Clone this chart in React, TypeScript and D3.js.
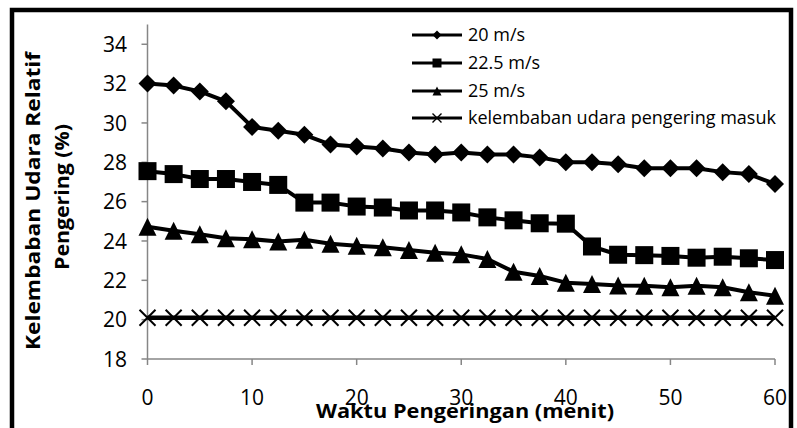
import React from "react";
import * as d3 from "d3";

// Drying time (minutes), sampled every 2.5 min
const minutes = [0, 2.5, 5, 7.5, 10, 12.5, 15, 17.5, 20, 22.5, 25, 27.5, 30, 32.5, 35, 37.5, 40, 42.5, 45, 47.5, 50, 52.5, 55, 57.5, 60];

// Relative humidity of drying air (%) per air speed
const rh20 = [32.0, 31.9, 31.6, 31.1, 29.8, 29.6, 29.4, 28.9, 28.8, 28.7, 28.5, 28.4, 28.5, 28.4, 28.4, 28.25, 28.0, 28.0, 27.9, 27.7, 27.7, 27.7, 27.5, 27.4, 26.9];
const rh225 = [27.55, 27.4, 27.15, 27.15, 27.0, 26.85, 25.95, 25.95, 25.75, 25.7, 25.55, 25.55, 25.45, 25.2, 25.05, 24.9, 24.88, 23.72, 23.3, 23.28, 23.24, 23.15, 23.2, 23.12, 23.03];
const rh25 = [24.72, 24.52, 24.34, 24.14, 24.09, 23.97, 24.06, 23.86, 23.76, 23.68, 23.54, 23.4, 23.32, 23.08, 22.44, 22.22, 21.88, 21.81, 21.74, 21.73, 21.65, 21.72, 21.65, 21.39, 21.22];
const rhInlet = minutes.map(() => 20.1);

const seriesNames = ["20 m/s", "22.5 m/s", "25 m/s", "kelembaban udara pengering masuk"];
const seriesValues = [rh20, rh225, rh25, rhInlet];
const markerKinds = ["diamond", "square", "triangle", "cross"];

const yTicks = [18, 20, 22, 24, 26, 28, 30, 32, 34];
const xTicks = [0, 10, 20, 30, 40, 50, 60];

const W = 797;
const H = 428;
const FONT = "'Open Sans', 'Noto Sans', sans-serif";
const AXIS_GREY = "#868686";

const x = d3.scaleLinear().domain([0, 60]).range([147.5, 775]);
const y = d3.scaleLinear().domain([18, 35]).range([359, 24.6]);

function Marker({ kind, cx, cy, s }: { kind: string; cx: number; cy: number; s: number }) {
  const h = s / 2;
  if (kind === "diamond") {
    return <path d={`M${cx},${cy - h}L${cx + h},${cy}L${cx},${cy + h}L${cx - h},${cy}Z`} fill="#000" />;
  }
  if (kind === "square") {
    return <rect x={cx - h} y={cy - h} width={s} height={s} fill="#000" />;
  }
  if (kind === "triangle") {
    return <path d={`M${cx},${cy - h}L${cx + h},${cy + h}L${cx - h},${cy + h}Z`} fill="#000" />;
  }
  return (
    <path
      d={`M${cx - h},${cy - h}L${cx + h},${cy + h}M${cx - h},${cy + h}L${cx + h},${cy - h}`}
      stroke="#000"
      strokeWidth={s > 10 ? 2 : 1.4}
      fill="none"
    />
  );
}

export default function App() {
  const line = d3
    .line<number>()
    .x((_, i) => x(minutes[i]))
    .y((v) => y(v));

  const markerSize = [18, 18, 18, 16];
  const legendY = [35, 63, 91, 118];

  return (
    <svg width={W} height={H} style={{ position: "absolute", left: 0, top: 0, background: "#fff" }}>
      <rect x={0} y={0} width={W} height={H} fill="#fff" />

      {/* axes */}
      <line x1={x(0)} x2={x(0)} y1={y(35)} y2={y(18)} stroke={AXIS_GREY} strokeWidth={1.5} />
      <line x1={x(0)} x2={x(60)} y1={y(18)} y2={y(18)} stroke={AXIS_GREY} strokeWidth={1.5} />
      {yTicks.map((t) => (
        <g key={`y${t}`}>
          <line x1={x(0) - 6} x2={x(0)} y1={y(t)} y2={y(t)} stroke={AXIS_GREY} strokeWidth={1.5} />
          <text x={127} y={y(t)} dy="0.36em" textAnchor="end" fontFamily={FONT} fontSize={21} textLength={24} lengthAdjust="spacingAndGlyphs" fill="#000">
            {t}
          </text>
        </g>
      ))}
      {xTicks.map((t) => (
        <g key={`x${t}`}>
          <line x1={x(t)} x2={x(t)} y1={y(18)} y2={y(18) + 6} stroke={AXIS_GREY} strokeWidth={1.5} />
          <text x={x(t)} y={397} dy="0.36em" textAnchor="middle" fontFamily={FONT} fontSize={21} fill="#000">
            {t}
          </text>
        </g>
      ))}

      {/* series */}
      {seriesValues.map((vals, si) => (
        <g key={seriesNames[si]}>
          <path d={line(vals) || ""} fill="none" stroke="#000" strokeWidth={si === 3 ? 4.5 : 4} strokeLinejoin="round" />
          {vals.map((v, i) => (
            <Marker key={i} kind={markerKinds[si]} cx={x(minutes[i])} cy={y(v)} s={markerSize[si]} />
          ))}
        </g>
      ))}

      {/* legend */}
      {seriesNames.map((name, i) => (
        <g key={`lg${i}`}>
          <line x1={412} x2={462} y1={legendY[i]} y2={legendY[i]} stroke="#000" strokeWidth={3} />
          <Marker kind={markerKinds[i]} cx={437} cy={legendY[i]} s={9} />
          <text x={468} y={legendY[i]} dy="0.36em" fontFamily={FONT} fontSize={18} fill="#000">
            {name}
          </text>
        </g>
      ))}

      {/* axis titles */}
      <text
        x={465}
        y={411}
        dy="0.36em"
        textAnchor="middle"
        fontFamily={FONT}
        fontWeight="bold"
        fontSize={20}
        textLength={298}
        lengthAdjust="spacingAndGlyphs"
        fill="#000"
      >
        Waktu Pengeringan (menit)
      </text>
      <g transform="translate(33,201) rotate(-90)">
        <text x={0} y={0} dy="0.36em" textAnchor="middle" fontFamily={FONT} fontWeight="bold" fontSize={20} textLength={298} lengthAdjust="spacingAndGlyphs" fill="#000">
          Kelembaban Udara Relatif
        </text>
      </g>
      <g transform="translate(62,197) rotate(-90)">
        <text x={0} y={0} dy="0.36em" textAnchor="middle" fontFamily={FONT} fontWeight="bold" fontSize={20} textLength={146} lengthAdjust="spacingAndGlyphs" fill="#000">
          Pengering (%)
        </text>
      </g>

      {/* chart frame */}
      <rect x={12} y={10} width={779} height={440} fill="none" stroke="#000" strokeWidth={4.5} />
    </svg>
  );
}
